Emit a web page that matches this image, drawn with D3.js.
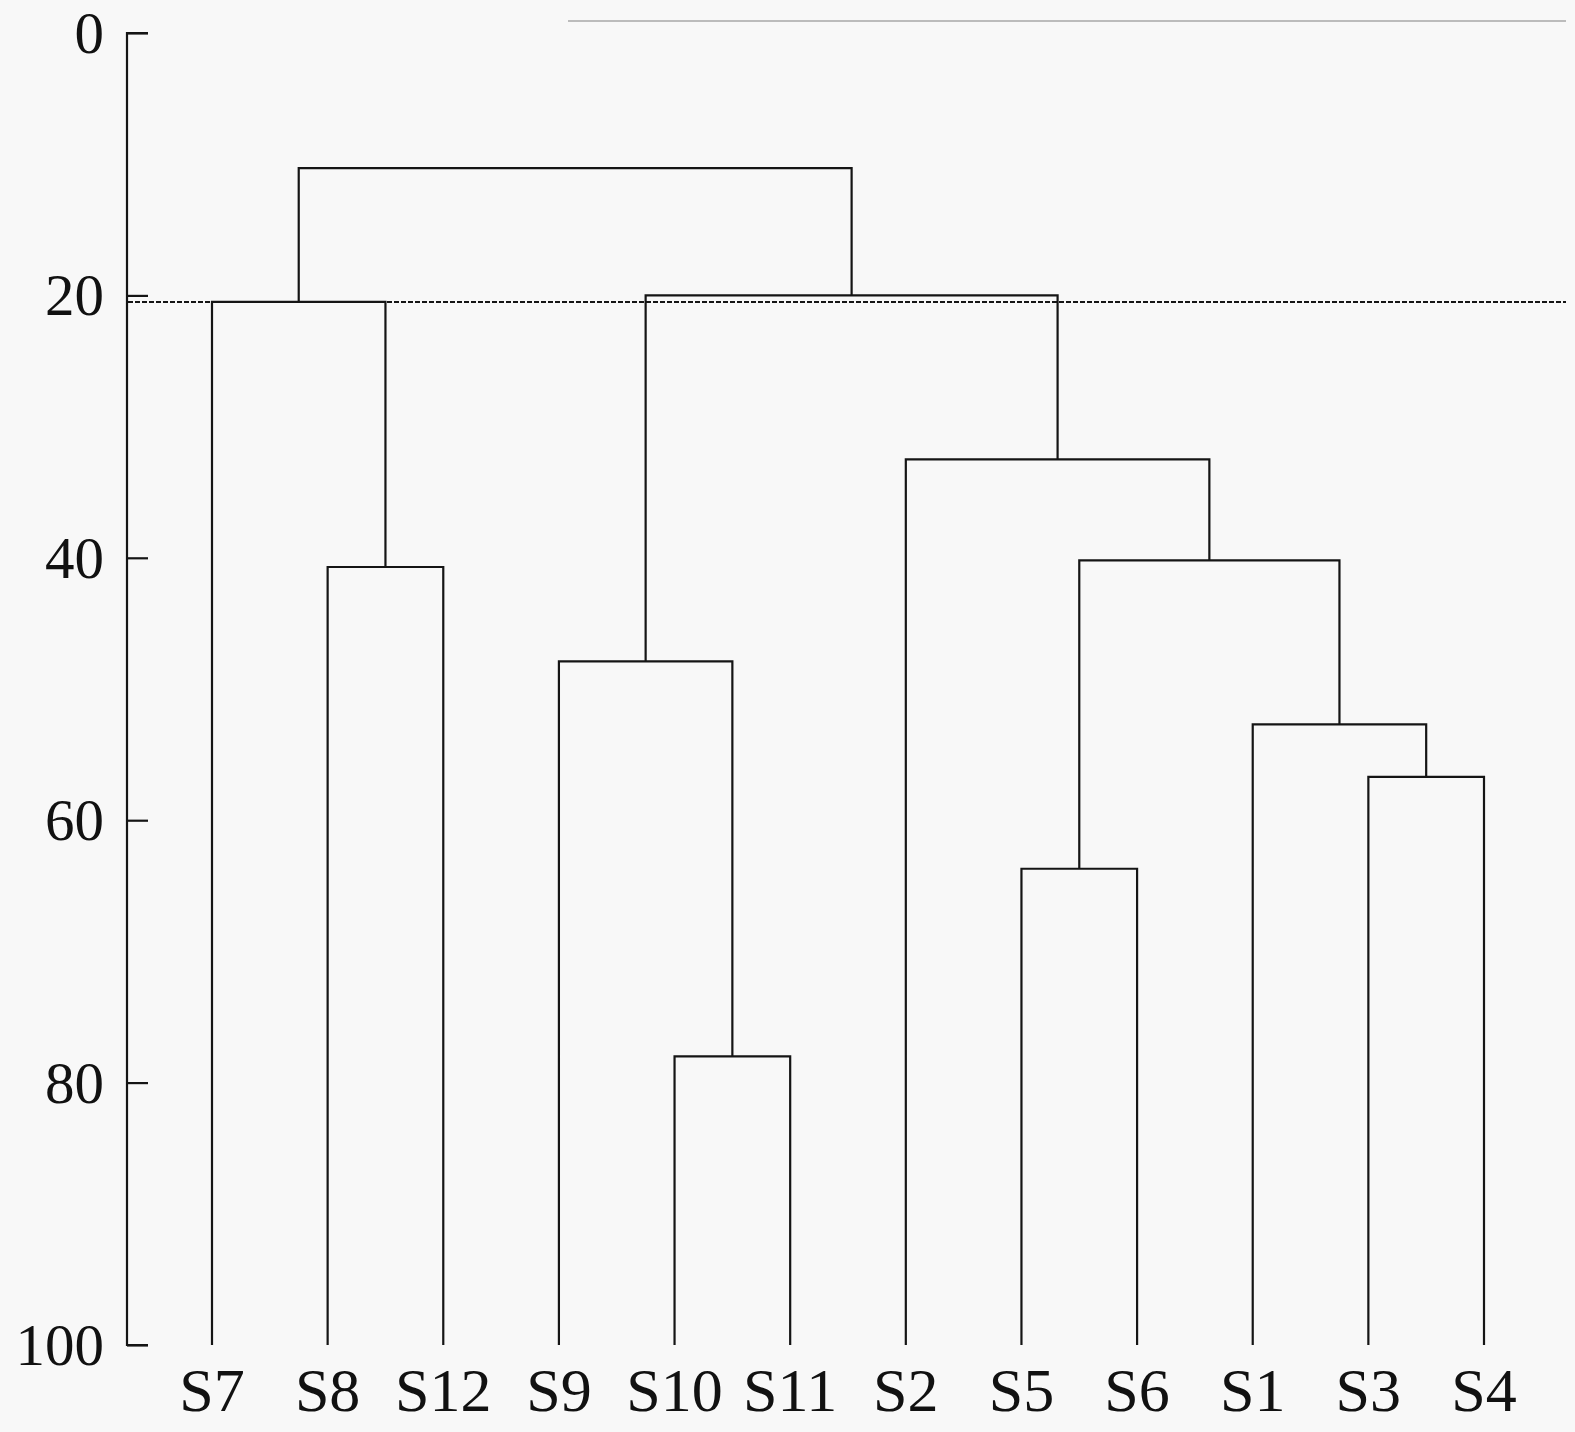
<!DOCTYPE html>
<html>
<head>
<meta charset="utf-8">
<script src="https://cdn.jsdelivr.net/npm/d3@7"></script>
<style>
  html, body { margin: 0; padding: 0; background: #f8f8f8; }
  svg { display: block; }
</style>
</head>
<body>
<svg id="chart" width="1575" height="1432" font-family="'Liberation Serif', Tinos, 'Times New Roman', Times, serif"></svg>
<script>
// ---- data ----
const leafLabels = ["S7", "S8", "S12", "S9", "S10", "S11", "S2", "S5", "S6", "S1", "S3", "S4"];
// merge steps: ids of clusters being joined (leaf names or m#), and their join height
const mergeIds    = ["m0", "m1", "m2", "m3", "m4", "m5", "m6", "m7", "m8", "m9", "m10"];
const mergeLeft   = ["S10", "S3", "S5", "S1", "S8", "S9", "m2", "S2", "m5", "S7", "m9"];
const mergeRight  = ["S11", "S4", "S6", "m1", "S12", "m0", "m3", "m6", "m7", "m4", "m8"];
const mergeHeight = [78.0, 56.7, 63.7, 52.7, 40.7, 47.9, 40.2, 32.5, 20.0, 20.5, 10.3];
const cutHeight = 20.5;
const yTicks = [0, 20, 40, 60, 80, 100];

// ---- build tree ----
const nodes = {};
leafLabels.forEach(n => nodes[n] = { name: n, h: 100 });
mergeIds.forEach((id, i) => {
  nodes[id] = { name: id, h: mergeHeight[i], children: [nodes[mergeLeft[i]], nodes[mergeRight[i]]] };
});
const root = d3.hierarchy(nodes["m10"]);

// ---- scales ----
const svg = d3.select("#chart");
const x = d3.scalePoint().domain(leafLabels).range([212, 1484]);
const y = d3.scaleLinear().domain([0, 100]).range([33, 1345]);
const stroke = "#151515";
const sw = 2.2;

// leaf x from the point scale, internal x = mean of children
root.eachAfter(n => {
  n.px = n.children ? d3.mean(n.children, c => c.px) : x(n.data.name);
});

// stray grey rule at top
svg.append("line")
  .attr("x1", 568).attr("x2", 1566).attr("y1", 21).attr("y2", 21)
  .attr("stroke", "#a8a8a8").attr("stroke-width", 1.5);

// ---- y axis ----
const axis = d3.axisRight(y).tickValues(yTicks).tickSize(21).tickPadding(0).tickFormat(() => "");
const ag = svg.append("g").attr("transform", "translate(127,0)").call(axis);
ag.select(".domain").attr("d", `M21,${y(0)}H0V${y(100)}H21`).attr("stroke", stroke).attr("stroke-width", sw).attr("fill", "none");
ag.selectAll(".tick line").attr("stroke", stroke).attr("stroke-width", sw);
svg.append("g").selectAll("text").data(yTicks).join("text")
  .attr("x", 104).attr("y", d => y(d) + 20)
  .attr("text-anchor", "end").attr("font-size", 59).attr("fill", "#111")
  .text(d => d);

// ---- cut line ----
svg.append("line")
  .attr("x1", 128).attr("x2", 1566)
  .attr("y1", y(cutHeight)).attr("y2", y(cutHeight))
  .attr("stroke", stroke).attr("stroke-width", 2).attr("stroke-dasharray", "5,2");

// ---- dendrogram links ----
const linkPath = d3.path();
root.descendants().forEach(n => {
  if (!n.children) return;
  const [a, b] = n.children;
  const yp = y(n.data.h);
  linkPath.moveTo(a.px, y(a.data.h));
  linkPath.lineTo(a.px, yp);
  linkPath.lineTo(b.px, yp);
  linkPath.lineTo(b.px, y(b.data.h));
});
svg.append("path").attr("d", linkPath.toString())
  .attr("fill", "none").attr("stroke", stroke).attr("stroke-width", sw)
  .attr("stroke-linejoin", "miter");

// ---- leaf labels ----
svg.append("g").selectAll("text").data(root.leaves()).join("text")
  .attr("x", d => d.px).attr("y", 1411)
  .attr("text-anchor", "middle").attr("font-size", 62).attr("fill", "#111")
  .text(d => d.data.name);
</script>
</body>
</html>
